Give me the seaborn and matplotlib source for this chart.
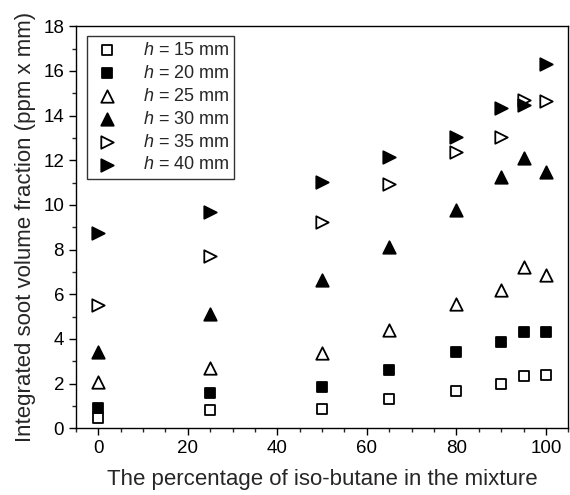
import matplotlib
matplotlib.use("Agg")
import matplotlib.pyplot as plt
from matplotlib.ticker import MultipleLocator
import pandas as pd
import seaborn as sns

iso_pct = [0, 25, 50, 65, 80, 90, 95, 100]
h15 = [0.46, 0.81, 0.84, 1.29, 1.67, 1.96, 2.35, 2.38]
h20 = [0.91, 1.56, 1.85, 2.60, 3.42, 3.84, 4.32, 4.32]
h25 = [2.08, 2.71, 3.38, 4.39, 5.56, 6.19, 7.20, 6.86]
h30 = [3.39, 5.10, 6.64, 8.13, 9.78, 11.27, 12.09, 11.45]
h35 = [5.52, 7.73, 9.25, 10.94, 12.36, 13.04, 14.70, 14.66]
h40 = [8.76, 9.70, 11.02, 12.15, 13.04, 14.34, 14.48, 16.32]

labels = ["15", "20", "25", "30", "35", "40"]
series = [h15, h20, h25, h30, h35, h40]
markers = ["s", "s", "^", "^", ">", ">"]
filled = [False, True, False, True, False, True]
sizes = [55, 55, 80, 80, 80, 80]

sns.set_style("ticks")
plt.rcParams['font.family'] = ['Liberation Sans', 'DejaVu Sans']
plt.rcParams['mathtext.fontset'] = 'custom'
plt.rcParams['mathtext.it'] = 'Liberation Sans:italic'
plt.rcParams['mathtext.rm'] = 'Liberation Sans'

fig = plt.figure(figsize=(5.7, 4.95), dpi=100)
ax = fig.add_axes([0.133, 0.135, 0.864, 0.812])

for lab, vals, m, f, s in zip(labels, series, markers, filled, sizes):
    df = pd.DataFrame({'x': iso_pct, 'y': vals})
    sns.scatterplot(data=df, x='x', y='y', ax=ax, marker=m, s=s,
                    facecolor='black' if f else 'white', edgecolor='black',
                    linewidth=1.3, label=f"$h$ = {lab} mm", zorder=3)

ax.set_xlim(-5, 105)
ax.set_ylim(0, 18)
ax.xaxis.set_major_locator(MultipleLocator(20))
ax.xaxis.set_minor_locator(MultipleLocator(5))
ax.yaxis.set_major_locator(MultipleLocator(2))
ax.yaxis.set_minor_locator(MultipleLocator(1))
ax.tick_params(which='major', direction='out', length=5, width=1, labelsize=13.5, colors='black')
ax.tick_params(which='minor', direction='out', length=3, width=1)
for sp in ax.spines.values():
    sp.set_linewidth(1)
    sp.set_color('black')

ax.set_xlabel("The percentage of iso-butane in the mixture", fontsize=16, labelpad=9)
ax.set_ylabel("Integrated soot volume fraction (ppm x mm)", fontsize=16, labelpad=5)

leg = ax.legend(loc='upper left', bbox_to_anchor=(0.022, 0.975), borderaxespad=0,
                fontsize=13, frameon=True, fancybox=False, edgecolor='black',
                handlelength=1.6, handletextpad=1.2, labelspacing=0.33, borderpad=0.3)
leg.get_frame().set_linewidth(1)

fig.savefig("out.png", dpi=100)
